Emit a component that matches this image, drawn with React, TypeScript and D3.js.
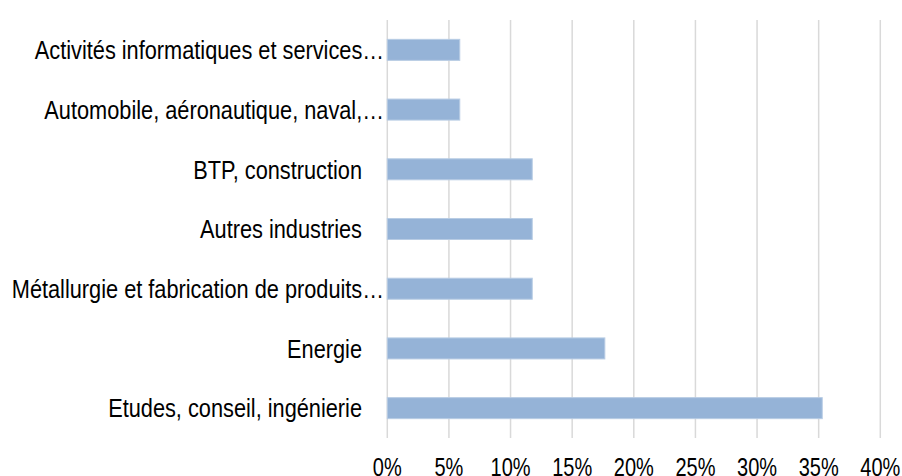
import React from "react";
import * as d3 from "d3";

const categories = [
  "Activités informatiques et services…",
  "Automobile, aéronautique, naval,…",
  "BTP, construction",
  "Autres industries",
  "Métallurgie et fabrication de produits…",
  "Energie",
  "Etudes, conseil, ingénierie",
];
const values = [5.88, 5.88, 11.76, 11.76, 11.76, 17.65, 35.29];
const ticks = [0, 5, 10, 15, 20, 25, 30, 35, 40];

const W = 902;
const H = 476;
const left = 387.3;
const right = 880.3;
const top = 20;
const bottom = 438;
const FONT = "'Liberation Sans', Arial, sans-serif";

export default function App() {
  const x = d3.scaleLinear().domain([0, 40]).range([left, right]);
  const y = d3.scaleBand<string>().domain(categories).range([top, bottom]).paddingInner(0.648).paddingOuter(0.324);
  return (
    <svg width={W} height={H} style={{ position: "absolute", left: 0, top: 0 }} fontFamily={FONT}>
      <rect width={W} height={H} fill="#fff" />
      {ticks.map((t) => (
        <line key={t} x1={x(t)} x2={x(t)} y1={top} y2={bottom} stroke="#d9d9d9" strokeWidth={1.5} />
      ))}
      {categories.map((c, i) => (
        <rect key={c} x={x(0)} y={y(c)!} width={x(values[i]) - x(0)} height={y.bandwidth()} fill="#95b3d7" stroke="#b8cce4" strokeWidth={1} />
      ))}
      {categories.map((c) => (
        <text
          key={c}
          transform={`translate(${c.endsWith("…") ? 384 : 362},${y(c)! + y.bandwidth() / 2 + 9.3}) scale(0.87,1)`}
          textAnchor="end"
          fontSize={25}
          fill="#000"
        >
          {c}
        </text>
      ))}
      {ticks.map((t) => (
        <text key={t} transform={`translate(${x(t)},475.5) scale(0.8,1)`} textAnchor="middle" fontSize={25} fill="#000">
          {t}%
        </text>
      ))}
    </svg>
  );
}
